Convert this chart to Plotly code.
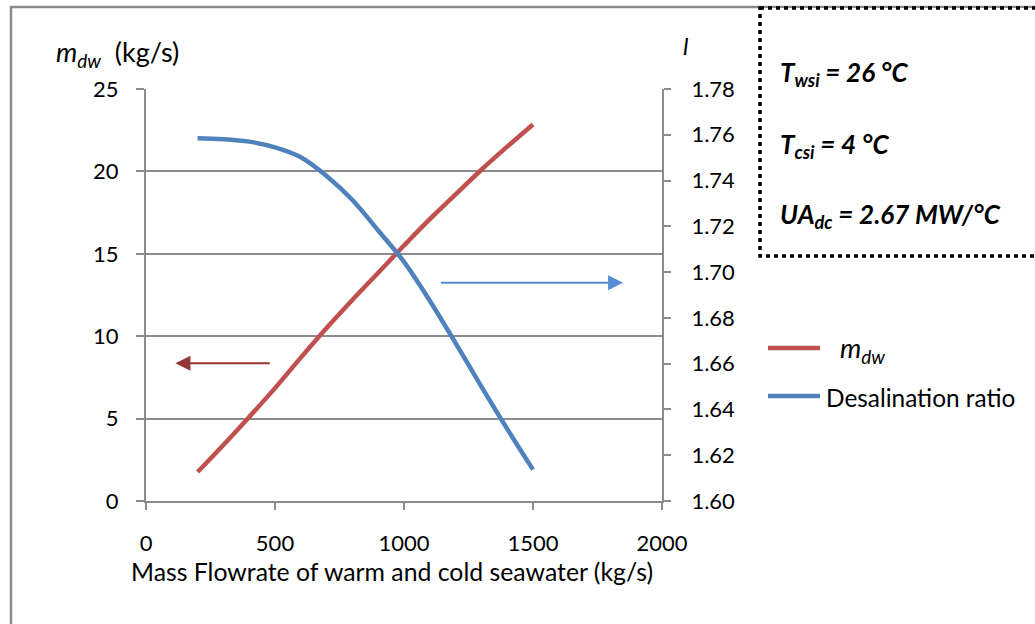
import plotly.graph_objects as go

# Mass flowrate of warm and cold seawater (kg/s)
flow = [200, 300, 400, 500, 600, 700, 800, 900, 1000, 1100, 1200, 1300, 1400, 1500]
# Desalinated water production m_dw (kg/s), left axis
m_dw = [1.76, 3.4, 5.1, 6.85, 8.7, 10.5, 12.2, 13.85, 15.5, 17.1, 18.6, 20.1, 21.5, 22.85]
# Desalination ratio l, right axis
ratio = [1.7585, 1.7581, 1.7570, 1.7545, 1.7502, 1.7420, 1.7315, 1.7182, 1.7045,
         1.6875, 1.669, 1.650, 1.6315, 1.6137]

left_ticks = [0, 5, 10, 15, 20, 25]
right_ticks = [1.60, 1.62, 1.64, 1.66, 1.68, 1.70, 1.72, 1.74, 1.76, 1.78]
x_ticks = [0, 500, 1000, 1500, 2000]

RED = "#C0504D"
BLUE = "#4F81BD"
GRID = "#8C8C8C"
FONT = "Lato"

W, H = 1035, 624
L, R, T, B = 146, 662, 89, 501


def px(xp):
    return (xp - L) / (R - L)


def py(yp):
    return (B - yp) / (B - T)


fig = go.Figure()
fig.add_trace(go.Scatter(x=flow, y=m_dw, mode="lines", name="m_dw",
                         line=dict(color=RED, width=4.5, shape="spline", smoothing=1.0),
                         showlegend=False))
fig.add_trace(go.Scatter(x=flow, y=ratio, mode="lines", name="Desalination ratio",
                         yaxis="y2",
                         line=dict(color=BLUE, width=4.5, shape="spline", smoothing=1.0),
                         showlegend=False))

axis_font = dict(family=FONT, size=22, color="#000000")

fig.update_layout(
    width=W, height=H,
    margin=dict(l=L, r=W - R, t=T, b=H - B, pad=0),
    paper_bgcolor="white", plot_bgcolor="white",
    font=dict(family=FONT, size=22, color="#000000"),
    xaxis=dict(range=[0, 2000], tickvals=x_ticks, showgrid=False, zeroline=False,
               showline=True, linecolor=GRID, linewidth=2,
               ticks="outside", ticklen=7, tickwidth=2, tickcolor=GRID,
               tickfont=axis_font, ticklabelstandoff=15),
    yaxis=dict(range=[0, 25], tickvals=left_ticks, showgrid=True, gridcolor=GRID,
               gridwidth=2, zeroline=False, showline=True, linecolor=GRID, linewidth=2,
               ticks="outside", ticklen=8, tickwidth=2, tickcolor=GRID,
               tickfont=axis_font, ticklabelstandoff=13),
    yaxis2=dict(range=[1.60, 1.78], tickvals=right_ticks, tickformat=".2f",
                overlaying="y", side="right", showgrid=False, zeroline=False,
                showline=True, linecolor=GRID, linewidth=2,
                ticks="outside", ticklen=7, tickwidth=2, tickcolor=GRID,
                tickfont=axis_font, ticklabelstandoff=16),
    showlegend=False,
)

shapes = []
# outer chart frame
shapes.append(dict(type="rect", xref="paper", yref="paper",
                   x0=px(11), x1=px(1045), y0=py(7), y1=py(640),
                   line=dict(color=GRID, width=2.5), fillcolor="rgba(0,0,0,0)", layer="below"))
# dotted parameter box
shapes.append(dict(type="rect", xref="paper", yref="paper",
                   x0=px(760), x1=px(1045), y0=py(8), y1=py(256),
                   line=dict(color="#000000", width=3.5, dash="4px,4px"),
                   fillcolor="white"))
# legend keys
shapes.append(dict(type="line", xref="paper", yref="paper",
                   x0=px(768), x1=px(820), y0=py(348), y1=py(348),
                   line=dict(color=RED, width=4.5)))
shapes.append(dict(type="line", xref="paper", yref="paper",
                   x0=px(768), x1=px(820), y0=py(396), y1=py(396),
                   line=dict(color=BLUE, width=4.5)))
fig.update_layout(shapes=shapes)

ann = []
# axis titles
ann.append(dict(text="<i>m<sub>dw</sub></i>  (kg/s)", xref="paper", yref="paper",
                x=px(54), y=py(53), xanchor="left", yanchor="middle", showarrow=False,
                font=dict(family=FONT, size=27)))
ann.append(dict(text="<i>l</i>", xref="paper", yref="paper",
                x=px(686), y=py(45), xanchor="center", yanchor="middle", showarrow=False,
                font=dict(family=FONT, size=24)))
ann.append(dict(text="Mass Flowrate of warm and cold seawater (kg/s)", xref="paper",
                yref="paper", x=px(392), y=py(571), xanchor="center", yanchor="middle",
                showarrow=False, font=dict(family=FONT, size=24.8)))
# parameter box text
box_font = dict(family=FONT, size=26, color="#000000")
ann.append(dict(text="<b><i>T<sub>wsi</sub> = 26 °C</i></b>", xref="paper", yref="paper",
                x=px(778), y=py(73), xanchor="left", yanchor="middle", showarrow=False,
                font=box_font))
ann.append(dict(text="<b><i>T<sub>csi</sub> = 4 °C</i></b>", xref="paper", yref="paper",
                x=px(778), y=py(145), xanchor="left", yanchor="middle", showarrow=False,
                font=box_font))
ann.append(dict(text="<b><i>UA<sub>dc</sub> = 2.67 MW/°C</i></b>", xref="paper",
                yref="paper", x=px(778), y=py(215), xanchor="left", yanchor="middle",
                showarrow=False, font=box_font))
# legend labels
ann.append(dict(text="<i>m<sub>dw</sub></i>", xref="paper", yref="paper",
                x=px(838), y=py(349), xanchor="left", yanchor="middle", showarrow=False,
                font=dict(family=FONT, size=27)))
ann.append(dict(text="Desalination ratio", xref="paper", yref="paper",
                x=px(824), y=py(397), xanchor="left", yanchor="middle", showarrow=False,
                font=dict(family=FONT, size=24.4)))
# axis pointer arrows
ann.append(dict(x=114, y=8.36, ax=486, ay=8.36, xref="x", yref="y", axref="x", ayref="y",
                text="", showarrow=True, arrowhead=2, arrowsize=1.5, arrowwidth=2,
                arrowcolor="#953735"))
ann.append(dict(x=1849, y=13.24, ax=1137, ay=13.24, xref="x", yref="y", axref="x",
                ayref="y", text="", showarrow=True, arrowhead=2, arrowsize=1.5,
                arrowwidth=2, arrowcolor="#558ED5"))
fig.update_layout(annotations=ann)

fig.write_html("out.html")
